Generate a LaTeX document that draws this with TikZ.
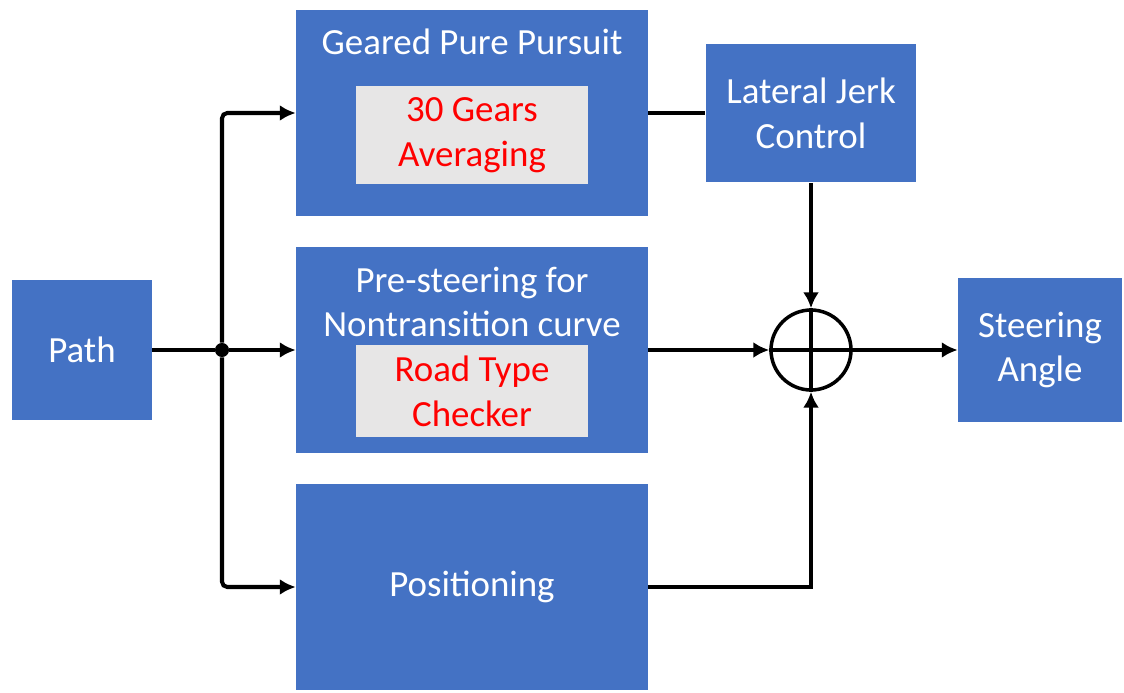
\documentclass[tikz,border=0pt]{standalone}
\usepackage{fontspec}
\setmainfont{Carlito}
\usetikzlibrary{arrows.meta, positioning}
\definecolor{myblue}{RGB}{68,114,196}
\definecolor{mygrey}{RGB}{231,230,230}
\definecolor{myred}{RGB}{255,0,0}

\begin{document}
\begin{tikzpicture}[x=0.02cm, y=-0.02cm,
    arrow/.style={-{Latex[length=9pt, width=9pt]}, line width=2.3pt},
    wire/.style={line width=2.3pt},
    block/.style={rectangle, fill=myblue, text=white, align=center, inner sep=0pt,
                  font=\fontsize{21}{25.5}\selectfont},
    inset/.style={rectangle, fill=mygrey, text=myred, align=center, inner sep=0pt,
                  minimum width=4.64cm, font=\fontsize{21}{25.5}\selectfont},
    caption/.style={text=white, align=center, font=\fontsize{21}{25.5}\selectfont},
    data_connector/.style={circle, fill=black, inner sep=0pt, minimum size=8pt}
]
    \useasboundingbox (0,0) rectangle (1124,692);

    % Path input
    \node[block, minimum width=2.8cm, minimum height=2.82cm] (path) at (82,350) {Path};

    % Connector after Path
    \node[data_connector] (conn_path) at (222,350) {};

    % Geared Pure Pursuit with its inner box
    \node[block, minimum width=7.04cm, minimum height=4.12cm] (gpp) at (472,113) {};
    \node[caption] (gpp_title) at (472,42) {Geared Pure Pursuit};
    \node[inset, minimum height=1.96cm] (gears) at (472,135) {30 Gears\\Averaging};

    % Pre-steering with its inner box
    \node[block, minimum width=7.04cm, minimum height=4.14cm] (pre) at (472,350) {};
    \node[caption] (pre_title) at (472,302) {Pre-steering for\\Nontransition curve};
    \node[inset, minimum height=1.86cm] (road_type) at (472,391) {Road Type\\Checker};

    % Positioning
    \node[block, minimum width=7.04cm, minimum height=4.12cm] (pos) at (472,587) {Positioning};

    % Lateral Jerk Control
    \node[block, minimum width=4.22cm, minimum height=2.78cm] (ljc) at (811,113) {Lateral Jerk\\Control};

    % Summing junction
    \node[circle, draw, line width=2pt, minimum size=1.6cm, inner sep=0pt] (sum) at (811,350) {};
    \draw[line width=2pt] (sum.north) -- (sum.south) (sum.west) -- (sum.east);

    % Output
    \node[block, minimum width=3.28cm, minimum height=2.88cm] (steer) at (1040,350) {Steering\\Angle};

    % Draw connections
    % Path to connector
    \draw[wire] (path.east) -- (conn_path);

    % Connector to the three blocks
    \draw[arrow, rounded corners=3pt] (conn_path) |- (gpp.west);
    \draw[arrow] (conn_path) -- (pre.west);
    \draw[arrow, rounded corners=3pt] (conn_path) |- (pos.west);

    % Geared Pure Pursuit to Lateral Jerk Control
    \draw[wire] (gpp.east) -- (ljc.west);

    % Inputs of the summing junction
    \draw[arrow] (ljc.south) -- (sum.north);
    \draw[arrow] (pre.east) -- (sum.west);
    \draw[arrow] (pos.east) -| (sum.south);

    % Summing junction to Steering Angle
    \draw[arrow] (sum.east) -- (steer.west);

\end{tikzpicture}
\end{document}
